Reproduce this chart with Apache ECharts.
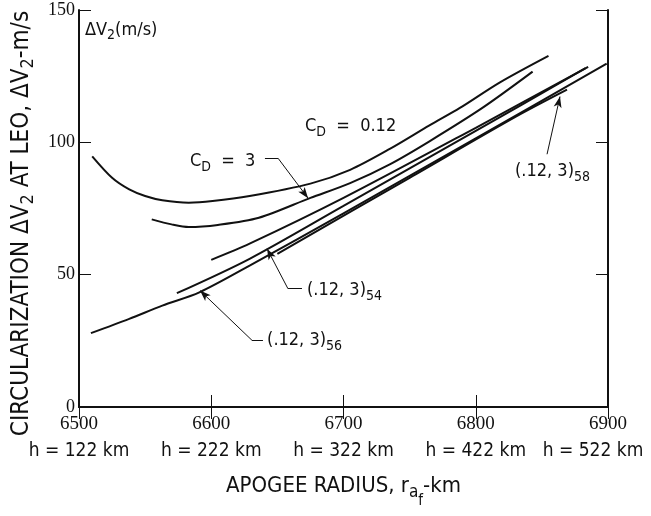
<!DOCTYPE html>
<html>
<head>
<meta charset="utf-8">
<script src="https://cdn.jsdelivr.net/npm/echarts@6/dist/echarts.min.js"></script>
<style>
html, body { margin: 0; padding: 0; background: #fff; }
#chart { width: 651px; height: 516px; }
</style>
</head>
<body>
<div id="chart"></div>
<script>
// axis ticks
var radiusTicks = [6500, 6600, 6700, 6800, 6900];
var altitudeLabels = ['h = 122 km', 'h = 222 km', 'h = 322 km', 'h = 422 km', 'h = 522 km'];
var dvTicks = [0, 50, 100, 150];

// C_D = 0.12
var cd012X = [6510, 6525, 6538, 6550, 6563, 6583, 6601, 6629, 6675, 6705, 6735, 6765, 6788, 6818, 6855];
var cd012Y = [94.7, 86.6, 82.2, 79.7, 78.1, 77.2, 77.8, 79.7, 84.4, 89.6, 97.5, 106.4, 113.0, 122.6, 132.7];
// C_D = 3
var cd3X = [6555, 6570, 6583, 6605, 6636, 6675, 6705, 6735, 6765, 6805, 6843];
var cd3Y = [70.9, 69.0, 68.0, 68.8, 71.5, 79.0, 84.6, 91.7, 100.4, 113.0, 126.7];
// (.12,3) switching curves
var sw56X = [6509, 6538, 6563, 6591, 6629, 6700, 6800, 6899];
var sw56Y = [27.9, 33.3, 38.3, 43.3, 53.4, 73.2, 101.5, 129.7];
var sw54lowX = [6574, 6629, 6700, 6800, 6883];
var sw54lowY = [43.0, 56.0, 76.0, 104.3, 128.0];
var sw54X = [6600, 6629, 6700, 6800, 6885];
var sw54Y = [55.6, 61.7, 79.0, 105.5, 128.5];
var sw58X = [6650, 6750, 6830, 6869];
var sw58Y = [57.9, 86.6, 109.6, 119.9];

function pairs(xs, ys) {
    var res = [];
    for (var i = 0; i < xs.length; i++) {
        res.push([xs[i], ys[i]]);
    }
    return res;
}

var ink = '#111';
var font = 'DejaVu Sans Condensed';
var narrow = 'Liberation Sans Narrow';

var subRich = {
    sub: { fontFamily: font, fontSize: 14, color: ink, padding: [12, 0, 0, 0] }
};

function curve(name, xs, ys) {
    return {
        name: name,
        type: 'line',
        smooth: 0.3,
        symbol: 'none',
        lineStyle: { color: ink, width: 2 },
        data: pairs(xs, ys)
    };
}

function leader(from, mid, tip) {
    var res = [];
    if (mid) {
        res.push([{ coord: from, symbol: 'none' }, { coord: mid, symbol: 'none' }]);
        from = mid;
    }
    res.push([{ coord: from, symbol: 'none' }, { coord: tip, symbol: 'arrow', symbolSize: [6, 11] }]);
    return res;
}

function note(coord, text) {
    return {
        coord: coord,
        symbol: 'circle',
        symbolSize: 0,
        label: {
            show: true,
            position: 'right',
            distance: 0,
            formatter: text,
            color: ink,
            fontFamily: font,
            fontSize: 18,
            rich: subRich
        }
    };
}

var annotated = curve('(.12,3)56', sw56X, sw56Y);
annotated.markLine = {
    silent: true,
    animation: false,
    label: { show: false },
    lineStyle: { color: ink, width: 1, type: 'solid' },
    data: [].concat(
        leader([6640.6, 94], [6650.5, 94], [6673.2, 78.9]),
        leader([6668.6, 44.7], [6658, 44.7], [6642.2, 59.8]),
        leader([6639.1, 25.2], [6630.8, 25.2], [6591.5, 44]),
        leader([6853.9, 95.5], null, [6863.7, 117.3])
    )
};
annotated.markPoint = {
    silent: true,
    animation: false,
    data: [
        note([6504.5, 142.5], '\u0394V{sub|2}(m/s)'),
        note([6670.9, 106], 'C{sub|D}  =  0.12'),
        note([6583.9, 92.9], 'C{sub|D}  =  3'),
        note([6672.4, 44], '(.12, 3){sub|54}'),
        note([6642.2, 25.2], '(.12, 3){sub|56}'),
        note([6829.7, 89.1], '(.12, 3){sub|58}')
    ]
};

var chart = echarts.init(document.getElementById('chart'));
chart.setOption({
    animation: false,
    backgroundColor: '#fff',
    grid: { left: 79, right: 43, top: 10, bottom: 109, outerBoundsMode: 'none', containLabel: false },
    xAxis: [{
        type: 'value',
        min: 6500,
        max: 6900,
        interval: 100,
        position: 'bottom',
        name: 'APOGEE RADIUS, r{a|a}{f|f}-km',
        nameLocation: 'middle',
        nameGap: 57,
        nameTextStyle: {
            color: ink, fontFamily: font, fontSize: 22,
            rich: {
                a: { fontFamily: font, fontSize: 17, color: ink, padding: [12, 0, 0, 0] },
                f: { fontFamily: font, fontSize: 15, color: ink, padding: [30, 0, 0, 0] }
            }
        },
        axisLine: { lineStyle: { color: ink, width: 2 } },
        axisTick: { inside: true, length: 12, lineStyle: { color: ink, width: 1 } },
        splitLine: { show: false },
        axisLabel: {
            margin: 4,
            formatter: function (v) {
                var i = radiusTicks.indexOf(v);
                var style = i === radiusTicks.length - 1 ? 'hl' : 'h';
                return '{n|' + v + '}\n{' + style + '|' + altitudeLabels[i] + '}';
            },
            rich: {
                n: { fontFamily: narrow, fontSize: 19, color: ink, lineHeight: 27 },
                h: { fontFamily: font, fontSize: 19, color: ink, lineHeight: 27 },
                hl: { fontFamily: font, fontSize: 19, color: ink, lineHeight: 27, padding: [0, 30, 0, 0] }
            }
        }
    }, {
        type: 'value',
        min: 6500,
        max: 6900,
        interval: 100,
        position: 'top',
        axisLine: { lineStyle: { color: ink, width: 2 } },
        axisTick: { inside: true, length: 12, lineStyle: { color: ink, width: 1 } },
        axisLabel: { show: false },
        splitLine: { show: false }
    }],
    yAxis: [{
        type: 'value',
        min: 0,
        max: 150,
        interval: 50,
        position: 'left',
        name: 'CIRCULARIZATION \u0394V{s|2} AT LEO, \u0394V{s|2}-m/s',
        nameLocation: 'middle',
        nameGap: 29,
        nameTextStyle: {
            color: ink, fontFamily: font, fontSize: 24,
            padding: [0, 30, 0, 0],
            rich: {
                s: { fontFamily: font, fontSize: 18, color: ink, padding: [12, 0, 0, 0] }
            }
        },
        axisLine: { lineStyle: { color: ink, width: 2 } },
        axisTick: { inside: true, length: 12, lineStyle: { color: ink, width: 1 } },
        splitLine: { show: false },
        axisLabel: {
            margin: 4,
            color: ink,
            fontFamily: narrow,
            fontSize: 18,
            formatter: function (v) {
                return dvTicks.indexOf(v) >= 0 ? String(v) : '';
            }
        }
    }, {
        type: 'value',
        min: 0,
        max: 150,
        interval: 50,
        position: 'right',
        axisLine: { lineStyle: { color: ink, width: 2 } },
        axisTick: { inside: true, length: 12, lineStyle: { color: ink, width: 1 } },
        axisLabel: { show: false },
        splitLine: { show: false }
    }],
    series: [
        curve('C_D = 0.12', cd012X, cd012Y),
        curve('C_D = 3', cd3X, cd3Y),
        annotated,
        curve('(.12,3)54 low', sw54lowX, sw54lowY),
        curve('(.12,3)54', sw54X, sw54Y),
        curve('(.12,3)58', sw58X, sw58Y)
    ]
});
</script>
</body>
</html>
